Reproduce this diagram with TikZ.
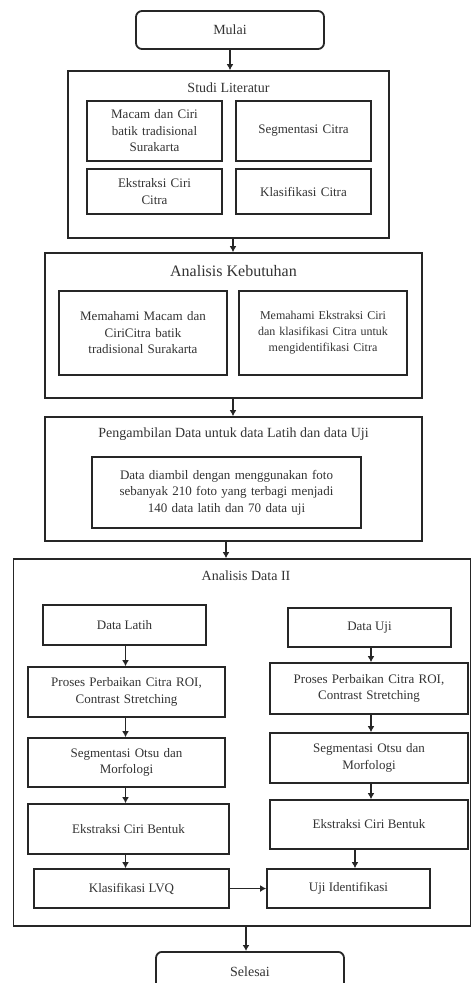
\documentclass[tikz,border=0pt]{standalone}
\usepackage{fontspec}
\setmainfont{Liberation Serif}
\usetikzlibrary{arrows.meta}
\begin{document}
\begin{tikzpicture}[x=1pt,y=-1pt,
  box/.style={draw=black!85, line width=1.8pt, rectangle, inner sep=2pt, align=center,
    text=black!80, font=\fontsize{13}{16.5}\selectfont},
  rbox/.style={box, rounded corners=6pt},
  outer/.style={draw=black!85, line width=1.8pt, rectangle},
  ttl/.style={text=black!80, font=\fontsize{14}{16}\selectfont},
  arr/.style={draw=black!85, line width=1.3pt, -{Latex[length=6pt,width=7pt]}}
]
\useasboundingbox (0,0) rectangle (472,983);
\fill[white] (0,0) rectangle (472,983);

% Mulai
\node[rbox, minimum width=188pt, minimum height=38pt, font=\fontsize{14}{16}\selectfont] (mulai) at (230,30) {Mulai};

% Studi Literatur
\node[outer, minimum width=321pt, minimum height=167pt] (studi) at (228.5,154.5) {};
\node[ttl] (studiT) at (228.5,88) {Studi Literatur};
\node[box, minimum width=135pt, minimum height=60pt, text width=125pt] (macam) at (154.5,131) {Macam dan Ciri\\batik tradisional\\Surakarta};
\node[box, minimum width=135pt, minimum height=60pt, text width=125pt] (segcitra) at (303.5,131) {Segmentasi Citra};
\node[box, minimum width=135pt, minimum height=45pt, text width=125pt] (ekscitra) at (154.5,191.5) {Ekstraksi Ciri\\Citra};
\node[box, minimum width=135pt, minimum height=45pt, text width=125pt] (klascitra) at (303.5,191.5) {Klasifikasi Citra};

% Analisis Kebutuhan
\node[outer, minimum width=377pt, minimum height=145pt] (analisis) at (233.5,325.5) {};
\node[ttl, font=\fontsize{16}{18}\selectfont] (analisisT) at (233.5,271) {Analisis Kebutuhan};
\node[box, minimum width=168pt, minimum height=84pt, text width=158pt] (memA) at (143,333) {Memahami Macam dan\\CiriCitra batik\\tradisional Surakarta};
\node[box, minimum width=168pt, minimum height=84pt, text width=158pt, font=\fontsize{12}{16}\selectfont] (memB) at (323,333) {Memahami Ekstraksi Ciri\\dan klasifikasi Citra untuk\\mengidentifikasi Citra};

% Pengambilan Data
\node[outer, minimum width=377pt, minimum height=124pt] (ambil) at (233.5,479) {};
\node[ttl] (ambilT) at (233.5,434) {Pengambilan Data untuk data Latih dan data Uji};
\node[box, minimum width=269pt, minimum height=71pt, text width=260pt] (ambilin) at (226.5,492.5) {Data diambil dengan menggunakan foto\\sebanyak 210 foto yang terbagi menjadi\\140 data latih dan 70 data uji};

% Analisis Data II
\node[outer, minimum width=457pt, minimum height=367pt] (adii) at (242,742.5) {};
\node[ttl] (adiiT) at (246,576) {Analisis Data II};

\node[box, minimum width=163pt, minimum height=40pt] (latih) at (124.5,625) {Data Latih};
\node[box, minimum width=163pt, minimum height=39pt] (uji) at (369.5,627.5) {Data Uji};
\node[box, minimum width=197pt, minimum height=50pt, text width=188pt] (prosL) at (126.5,692) {Proses Perbaikan Citra ROI,\\Contrast Stretching};
\node[box, minimum width=198pt, minimum height=51pt, text width=188pt] (prosR) at (369,688.5) {Proses Perbaikan Citra ROI,\\Contrast Stretching};
\node[box, minimum width=197pt, minimum height=49pt, text width=188pt] (segL) at (126.5,762.5) {Segmentasi Otsu dan\\Morfologi};
\node[box, minimum width=198pt, minimum height=50pt, text width=188pt] (segR) at (369,758) {Segmentasi Otsu dan\\Morfologi};
\node[box, minimum width=201pt, minimum height=50pt] (eksL) at (128.5,829) {Ekstraksi Ciri Bentuk};
\node[box, minimum width=198pt, minimum height=49pt] (eksR) at (369,824.5) {Ekstraksi Ciri Bentuk};
\node[box, minimum width=195pt, minimum height=39pt] (lvq) at (131.5,888.5) {Klasifikasi LVQ};
\node[box, minimum width=163pt, minimum height=39pt] (ujiid) at (348.5,888.5) {Uji Identifikasi};

% Selesai
\node[rbox, minimum width=188pt, minimum height=46pt, anchor=north] (selesai) at (250,951) {};
\node[ttl] (selesaiT) at (250,972) {Selesai};

% column coordinates
\coordinate (cA) at (230,0);
\coordinate (cB) at (233,0);
\coordinate (cC) at (226,0);
\coordinate (cL) at (125.5,0);
\coordinate (cR) at (371,0);
\coordinate (cU) at (355,0);
\coordinate (cS) at (246,0);

% connectors
\draw[arr] (mulai.south -| cA) -- (studi.north -| cA);
\draw[arr] (studi.south -| cB) -- (analisis.north -| cB);
\draw[arr] (analisis.south -| cB) -- (ambil.north -| cB);
\draw[arr] (ambil.south -| cC) -- (adii.north -| cC);
\draw[arr] (latih.south -| cL) -- (prosL.north -| cL);
\draw[arr] (prosL.south -| cL) -- (segL.north -| cL);
\draw[arr] (segL.south -| cL) -- (eksL.north -| cL);
\draw[arr] (eksL.south -| cL) -- (lvq.north -| cL);
\draw[arr] (uji.south -| cR) -- (prosR.north -| cR);
\draw[arr] (prosR.south -| cR) -- (segR.north -| cR);
\draw[arr] (segR.south -| cR) -- (eksR.north -| cR);
\draw[arr] (eksR.south -| cU) -- (ujiid.north -| cU);
\draw[arr] (lvq.east) -- (ujiid.west);
\draw[arr] (adii.south -| cS) -- (selesai.north -| cS);
\end{tikzpicture}
\end{document}
